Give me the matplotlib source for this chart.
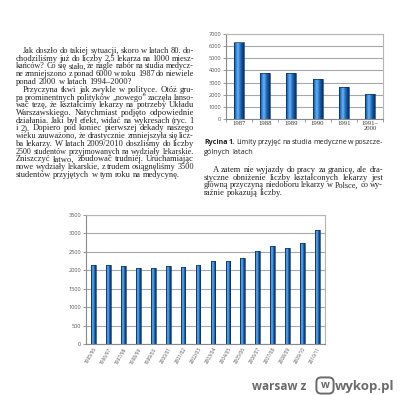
import matplotlib
matplotlib.use('Agg')
import matplotlib.pyplot as plt
import numpy as np
from matplotlib.colors import LinearSegmentedColormap
from matplotlib.patches import FancyBboxPatch

# ---------------- data ----------------
years = ['1987', '1988', '1989', '1990', '1991', '1991–\n2000']
limits = [6300, 3800, 3780, 3300, 2650, 2030]
limit_ticks = [0, 1000, 2000, 3000, 4000, 5000, 6000, 7000]

seasons = ['1995/96', '1996/97', '1997/98', '1998/99', '1999/00', '2000/01',
           '2001/02', '2002/03', '2003/04', '2004/05', '2005/06', '2006/07',
           '2007/08', '2008/09', '2009/10', '2010/11']
admitted = [2150, 2150, 2120, 2060, 2050, 2120, 2100, 2150, 2240, 2260,
            2340, 2530, 2660, 2610, 2750, 3080]
admitted_ticks = [0, 500, 1000, 1500, 2000, 2500, 3000, 3500]

left_text = [
    "Jak doszło do takiej sytuacji, skoro w latach 80. do-",
    "chodziliśmy już do liczby 2,5 lekarza na 1000 miesz-",
    "kańców? Co się stało, że nagle nabór na studia medycz-",
    "ne zmniejszono z ponad 6000 w roku 1987 do niewiele",
    "ponad 2000 w latach 1994–2000?",
    "Przyczyna tkwi jak zwykle w polityce. Otóż gru-",
    "pa prominentnych polityków „nowego” zaczęła lanso-",
    "wać tezę, że kształcimy lekarzy na potrzeby Układu",
    "Warszawskiego. Natychmiast podjęto odpowiednie",
    "działania. Jaki był efekt, widać na wykresach (ryc. 1",
    "i 2). Dopiero pod koniec pierwszej dekady naszego",
    "wieku zauważono, że drastycznie zmniejszyła się licz-",
    "ba lekarzy. W latach 2009/2010 doszliśmy do liczby",
    "2500 studentów przyjmowanych na wydziały lekarskie.",
    "Zniszczyć łatwo, zbudować trudniej. Uruchamiając",
    "nowe wydziały lekarskie, z trudem osiągnęliśmy 3500",
    "studentów przyjętych w tym roku na medycynę.",
]
left_indent = {0, 5}
left_last = {4, 16}

right_text = [
    "A zatem nie wyjazdy do pracy za granicę, ale dra-",
    "styczne obniżenie liczby kształconych lekarzy jest",
    "główną przyczyną niedoboru lekarzy w Polsce, co wy-",
    "raźnie pokazują liczby.",
]
caption_text = [
    "Rycina 1. Limity przyjęć na studia medyczne w poszcze-",
    "gólnych latach",
]

W, H = 400, 395
fig = plt.figure(figsize=(4, 3.95), dpi=100)
fig.patch.set_facecolor('white')
renderer = fig.canvas.get_renderer()

SERIF = ['Liberation Serif', 'DejaVu Serif']
SANS = ['Open Sans', 'DejaVu Sans']


def justify(lines, x0, x1, y0, dy, indent, indents, lasts, size, family,
            bold_words=None, color='#222222'):
    for i, line in enumerate(lines):
        yb = 1 - (y0 + i * dy) / H
        xs = x0 + (indent if i in indents else 0)
        words = line.split(' ')
        texts = []
        for j, w in enumerate(words):
            weight = 'normal'
            if bold_words and (i, j) in bold_words:
                weight = 'bold'
            t = fig.text(0, yb, w, fontsize=size, family=family,
                         fontweight=weight, color=color, va='baseline',
                         ha='left')
            texts.append(t)
        widths = [t.get_window_extent(renderer).width for t in texts]
        total = sum(widths)
        space = size * 100 / 72 * 0.25
        n = len(words)
        if i in lasts or n == 1:
            gap = space
        else:
            gap = (x1 - xs - total) / (n - 1)
            min_gap = space * 0.7
            if gap < min_gap:
                scale = (x1 - xs - (n - 1) * min_gap) / total
                for t in texts:
                    t.set_fontsize(size * scale)
                widths = [t.get_window_extent(renderer).width for t in texts]
                total = sum(widths)
                gap = (x1 - xs - total) / (n - 1)
        x = xs
        for t, w in zip(texts, widths):
            t.set_x(x / W)
            x += w + gap


justify(left_text, 16, 194, 53.0, 7.75, 7, left_indent, left_last, 6.1, SERIF)
justify(right_text, 204, 383, 172.0, 7.7, 9, {0}, {3}, 6.1, SERIF)
justify(caption_text, 204, 383, 144.5, 9, 0, set(), {1}, 5.3, SANS,
        bold_words={(0, 0), (0, 1)})

# ---------------- bars with cylinder shading ----------------
cmap = LinearSegmentedColormap.from_list(
    'cyl', ['#0b3a78', '#2f86d6', '#6cb2ef', '#2a7bcc', '#134f96', '#0a3166'])
grad = np.linspace(0, 1, 64).reshape(1, -1)


def shaded_bars(ax, values, width):
    xs = np.arange(len(values))
    bars = ax.bar(xs, values, width=width, facecolor='none',
                  edgecolor='#0a3166', linewidth=0.5, zorder=3)
    for b in bars:
        x0 = b.get_x()
        im = ax.imshow(grad, extent=[x0, x0 + b.get_width(), 0, b.get_height()],
                       aspect='auto', cmap=cmap, zorder=2.5)
        im.set_clip_path(b)
    return bars


def style_axes(ax):
    ax.set_facecolor('white')
    for s in ['top', 'right']:
        ax.spines[s].set_color('#b5b5b5')
        ax.spines[s].set_linewidth(0.8)
    for s in ['left', 'bottom']:
        ax.spines[s].set_color('#8a8a8a')
        ax.spines[s].set_linewidth(0.8)
    ax.yaxis.grid(True, color='#a8a8a8', linewidth=0.8, zorder=0)
    ax.set_axisbelow(True)
    ax.tick_params(axis='y', length=2, width=0.6, color='#8a8a8a',
                   labelsize=4.1, labelcolor='#555555', pad=1.5)


# top chart
ax1 = fig.add_axes([226 / W, 1 - 119 / H, 157 / W, 85 / H])
shaded_bars(ax1, limits, 0.38)
ax1.set_xlim(-0.5, len(limits) - 0.5)
ax1.set_ylim(0, 7000)
ax1.set_yticks(limit_ticks)
ax1.set_yticklabels([str(v) for v in limit_ticks], family=SANS)
style_axes(ax1)
ax1.set_xticks(np.arange(len(years)))
ax1.set_xticklabels(years, family=SERIF, fontsize=4.8, color='#333333',
                    linespacing=0.9, va='top')
ax1.tick_params(axis='x', length=0, pad=1.5)
ax1.set_xticks(np.arange(len(years) + 1) - 0.5, minor=True)
ax1.tick_params(axis='x', which='minor', length=2, width=0.6, color='#8a8a8a')

# bottom chart
ax2 = fig.add_axes([86 / W, 1 - 344 / H, 239 / W, 129 / H])
shaded_bars(ax2, admitted, 0.32)
ax2.set_xlim(-0.5, len(admitted) - 0.5)
ax2.set_ylim(0, 3500)
ax2.set_yticks(admitted_ticks)
ax2.set_yticklabels([str(v) for v in admitted_ticks], family=SANS)
style_axes(ax2)
ax2.set_xticks(np.arange(len(seasons)))
ax2.set_xticklabels(seasons, family=SANS, fontsize=3.4, color='#555555',
                    rotation=60, ha='right', rotation_mode='anchor')
ax2.tick_params(axis='x', length=0, pad=2)

# ---------------- watermark ----------------
fig.text(252 / W, 1 - 390 / H, 'warsaw z', fontsize=8.5, family=SANS,
         fontweight='bold', color='#6a6a6a', va='baseline', ha='left')
box = FancyBboxPatch((318 / W, 1 - 392 / H), 14 / W, 13 / H,
                     boxstyle='round,pad=0.004,rounding_size=0.012',
                     transform=fig.transFigure, facecolor='white',
                     edgecolor='#6a6a6a', linewidth=1.4)
fig.patches.append(box)
fig.text(325 / W, 1 - 385.5 / H, 'w', fontsize=7.5, family=SANS,
         fontweight='bold', color='#6a6a6a', va='center', ha='center')
fig.text(335 / W, 1 - 390 / H, 'wykop.pl', fontsize=9.5, family=SANS,
         fontweight='bold', color='#6a6a6a', va='baseline', ha='left')

fig.savefig('out.png', dpi=100, facecolor='white')
